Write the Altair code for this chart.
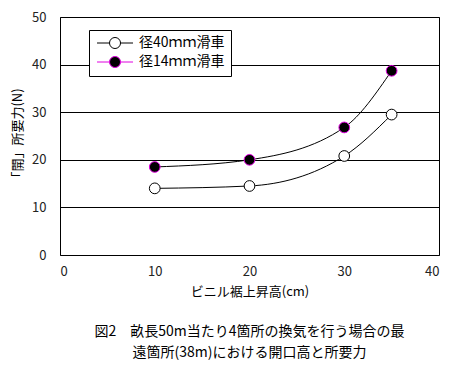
import altair as alt
import pandas as pd

heights = [10, 20, 30, 35]
series_names = ["径40ｍｍ滑車", "径14ｍｍ滑車"]
force_40mm = [14.0, 14.5, 20.8, 29.5]
force_14mm = [18.5, 20.0, 26.8, 38.7]

rows = []
for h, v in zip(heights, force_40mm):
    rows.append({"h": h, "f": v, "s": series_names[0]})
for h, v in zip(heights, force_14mm):
    rows.append({"h": h, "f": v, "s": series_names[1]})
df = pd.DataFrame(rows)

FONT = "Noto Sans CJK JP"

x = alt.X("h:Q", title="ビニル裾上昇高(cm)",
          scale=alt.Scale(domain=[0, 40], nice=False),
          axis=alt.Axis(values=[0, 10, 20, 30, 40], grid=False, ticks=False,
                        domain=False, labelPadding=10, titlePadding=7))
y = alt.Y("f:Q", title="「開」所要力(N)",
          scale=alt.Scale(domain=[0, 50], nice=False),
          axis=alt.Axis(values=[0, 10, 20, 30, 40, 50], grid=True, ticks=False,
                        domain=False, labelPadding=14, titlePadding=7,
                        gridColor="black", gridOpacity=1, gridWidth=1))

lines = alt.Chart(df).mark_line(color="black", strokeWidth=1,
                                interpolate="monotone").encode(
    x=x, y=y, detail="s:N")

sym = ("M-0.83,0L1.25,0M3.09,0L5.17,0"
       "M1.25,0A0.92,0.92,0,1,0,3.09,0A0.92,0.92,0,1,0,1.25,0Z")

points = alt.Chart(df).mark_point(filled=True, size=115, opacity=1,
                                  strokeWidth=1).encode(
    x=x, y=y,
    fill=alt.Fill("s:N", sort=series_names,
                  scale=alt.Scale(domain=series_names, range=["white", "black"]),
                  legend=alt.Legend(title=None, orient="none", legendX=29, legendY=13,
                                    symbolType=sym, symbolSize=144,
                                    symbolStrokeWidth=1, labelOffset=30,
                                    labelFont=FONT, labelFontSize=14,
                                    labelColor="black", padding=6,
                                    rowPadding=3, strokeColor="black",
                                    fillColor="white")),
    stroke=alt.Stroke("s:N", sort=series_names,
                      scale=alt.Scale(domain=series_names, range=["black", "#e000e0"]),
                      legend=None),
)

chart = alt.layer(lines, points).properties(
    width=379, height=238,
    background="white",
    autosize=alt.AutoSizeParams(type="none"),
    padding={"left": 52, "top": 9, "right": 9, "bottom": 110},
    title=alt.Title(["図2　畝長50m当たり4箇所の換気を行う場合の最",
                     "遠箇所(38m)における開口高と所要力"],
                    orient="bottom", anchor="middle", font=FONT, fontSize=14,
                    fontWeight="normal", color="black", offset=27, lineHeight=21),
).configure_view(stroke="black", strokeWidth=1).configure_axis(
    labelFont=FONT, titleFont=FONT, labelFontSize=13, titleFontSize=13,
    labelColor="#222222", titleColor="black", titleFontWeight="normal"
)

chart.save("out.html", embed_options={"renderer": "svg", "actions": False})
